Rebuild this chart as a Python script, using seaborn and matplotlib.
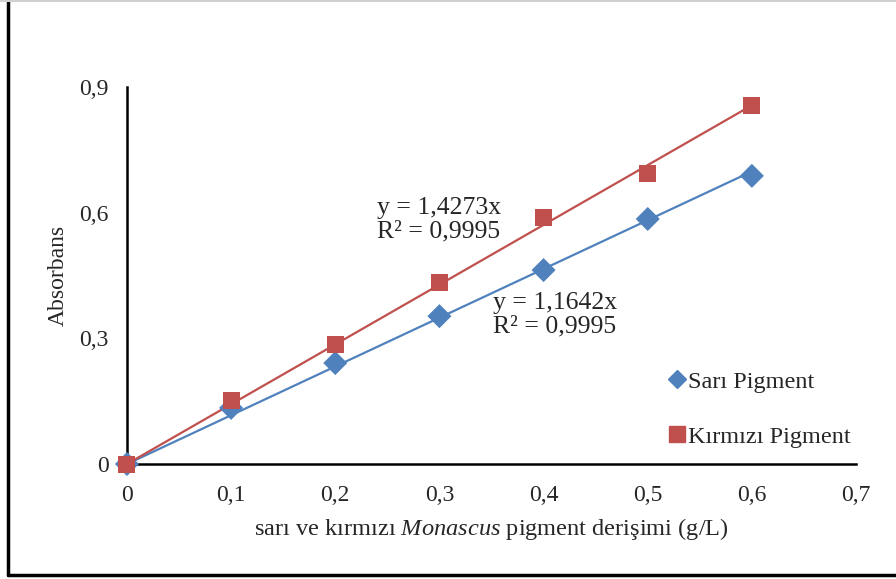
import matplotlib
matplotlib.use("Agg")
import matplotlib.pyplot as plt
from matplotlib.lines import Line2D
import numpy as np
import pandas as pd
import seaborn as sns

# Concentration (g/L) and measured absorbance
concentration = [0.0, 0.1, 0.2, 0.3, 0.4, 0.5, 0.6]
sari_abs = [0.0, 0.134, 0.241, 0.353, 0.463, 0.585, 0.688]
kirmizi_abs = [0.0, 0.151, 0.286, 0.434, 0.588, 0.694, 0.855]

# Linear fits through the origin
sari_slope = 1.1642
kirmizi_slope = 1.4273
r2_text = "R² = 0,9995"

x_ticks = [0, 0.1, 0.2, 0.3, 0.4, 0.5, 0.6, 0.7]
x_ticklabels = ["0", "0,1", "0,2", "0,3", "0,4", "0,5", "0,6", "0,7"]
y_ticks = [0, 0.3, 0.6, 0.9]
y_ticklabels = ["0", "0,3", "0,6", "0,9"]

blue = "#4F81BD"
red = "#C0504D"

sns.set_style("white")
plt.rcParams["font.family"] = ["Liberation Serif", "DejaVu Serif"]
plt.rcParams["mathtext.fontset"] = "custom"
plt.rcParams["mathtext.rm"] = "Liberation Serif"
plt.rcParams["mathtext.it"] = "Liberation Serif:italic"

fig = plt.figure(figsize=(8.96, 5.79), dpi=100)
ax = fig.add_axes([0.1417, 0.1986, 0.8137, 0.6511])

df = pd.DataFrame({
    "x": concentration * 2,
    "y": sari_abs + kirmizi_abs,
    "seri": ["Sarı Pigment"] * len(concentration) + ["Kırmızı Pigment"] * len(concentration),
})

# Trend lines
xfit = np.array([0.0, max(concentration)])
ax.plot(xfit, sari_slope * xfit, color=blue, lw=1.6, zorder=2)
ax.plot(xfit, kirmizi_slope * xfit, color=red, lw=1.6, zorder=2)

sns.scatterplot(data=df, x="x", y="y", hue="seri", style="seri",
                markers={"Sarı Pigment": "D", "Kırmızı Pigment": "s"},
                palette={"Sarı Pigment": blue, "Kırmızı Pigment": red},
                s=150, edgecolor="none", linewidth=0,
                ax=ax, zorder=3, legend=False, clip_on=False)

ax.set_xlim(0, 0.7)
ax.set_ylim(0, 0.9)
ax.set_xticks(x_ticks)
ax.set_xticklabels(x_ticklabels)
ax.set_yticks(y_ticks)
ax.set_yticklabels(y_ticklabels)
ax.tick_params(axis="both", labelsize=17, direction="out", length=7, width=1.5,
               color="black", pad=6)
ax.tick_params(axis="x", pad=8)
for side in ["top", "right"]:
    ax.spines[side].set_visible(False)
for side in ["left", "bottom"]:
    ax.spines[side].set_color("black")
    ax.spines[side].set_linewidth(1.8)
    ax.spines[side].set_clip_on(False)

ax.set_xlabel("sarı ve kırmızı $\\it{Monascus}$ pigment derişimi (g/L)", fontsize=17.6, labelpad=7)
ax.set_ylabel("Absorbans", fontsize=17, labelpad=8)

ax.text(0.240, 0.637, "y = 1,4273x\n" + r2_text, fontsize=18.5, va="top", ha="left",
        linespacing=1.05)
ax.text(0.3515, 0.410, "y = 1,1642x\n" + r2_text, fontsize=18.5, va="top", ha="left",
        linespacing=1.05)

handles = [
    Line2D([], [], marker="D", color=blue, linestyle="none", markersize=9),
    Line2D([], [], marker="s", color=red, linestyle="none", markersize=12),
]
ax.legend(handles, ["Sarı Pigment", "Kırmızı Pigment"], loc="upper left",
          bbox_to_anchor=(0.715, 0.305), frameon=False, fontsize=17.5,
          handlelength=0.6, handletextpad=0.15, labelspacing=1.35)

# Frame around the figure (left and bottom dark, light top edge)
fig.add_artist(Line2D([0.0085, 0.0085], [0.007, 1.0], color="black", lw=2.5,
                      transform=fig.transFigure))
fig.add_artist(Line2D([0.0085, 1.0], [0.007, 0.007], color="black", lw=2.5,
                      transform=fig.transFigure))
fig.add_artist(Line2D([0.0, 1.0], [0.999, 0.999], color="#d0d0d0", lw=1.5,
                      transform=fig.transFigure))

fig.savefig("out.png", dpi=100)
